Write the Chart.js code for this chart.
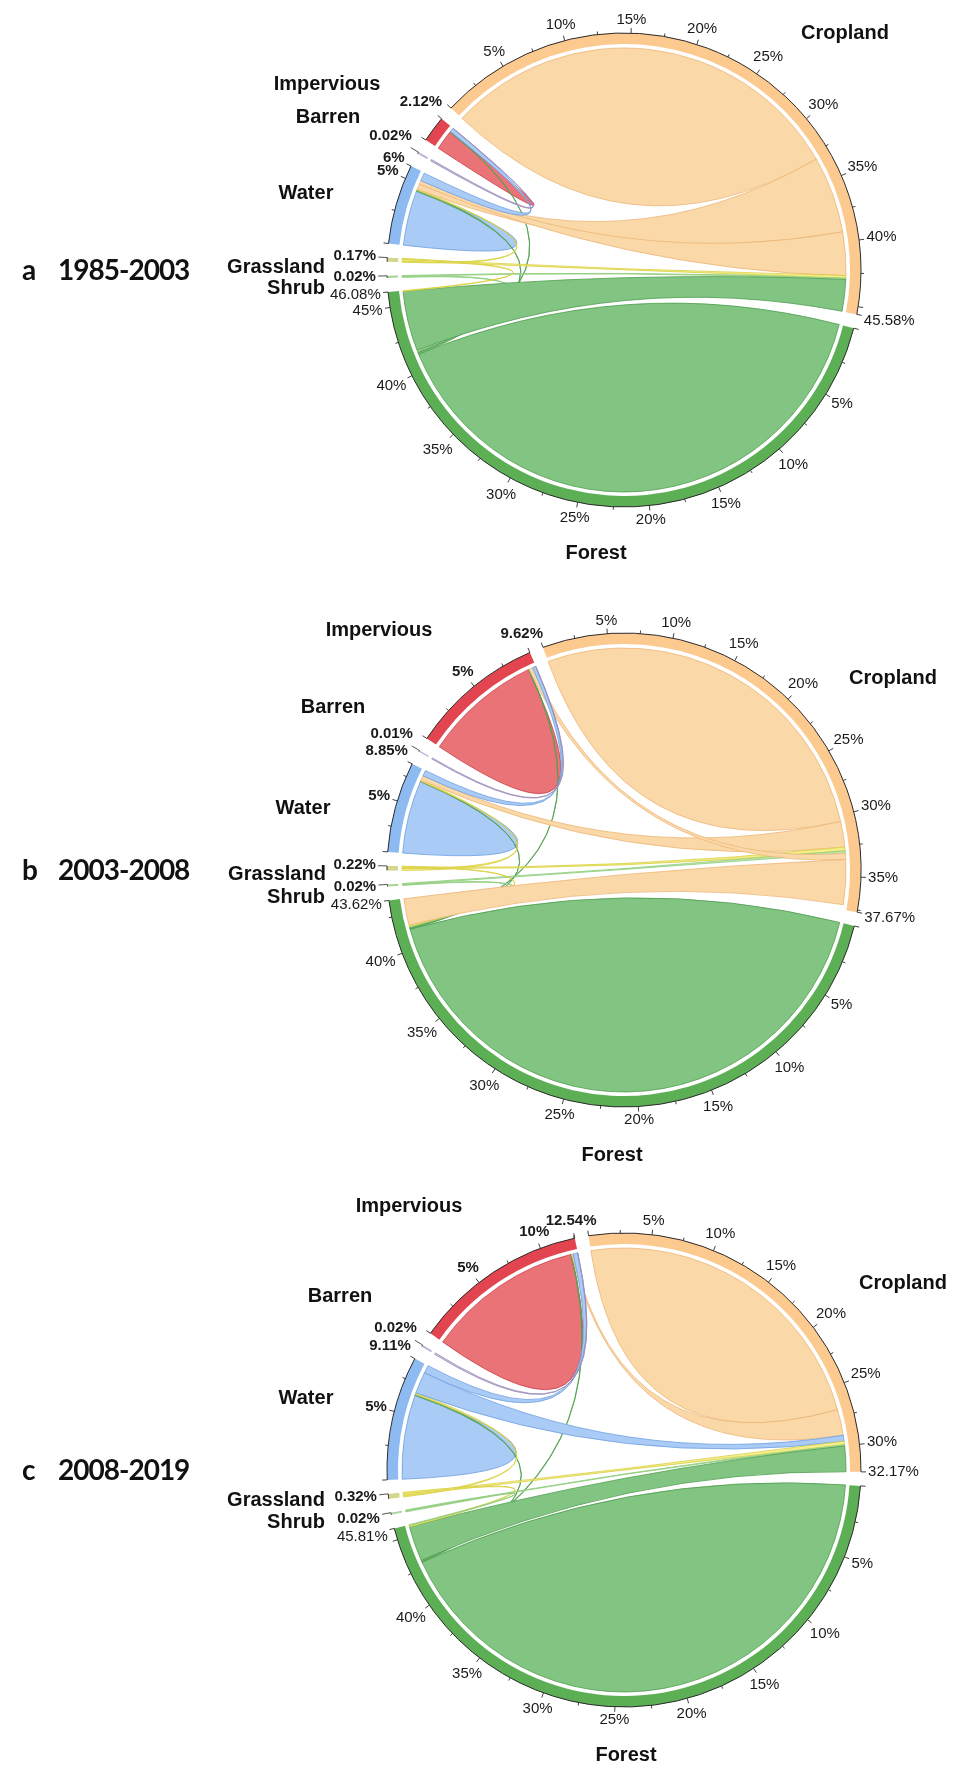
<!DOCTYPE html>
<html>
<head>
<meta charset="utf-8">
<script src="https://cdn.jsdelivr.net/npm/chart.js@4.4.1/dist/chart.umd.min.js"></script>
<style>
  html, body { margin: 0; padding: 0; background: #fff; }
  body { width: 962px; height: 1765px; position: relative; overflow: hidden; }
  canvas { position: absolute; left: 0; }
</style>
</head>
<body>
<canvas id="pa" width="962" height="590" style="top:0px"></canvas>
<canvas id="pb" width="962" height="600" style="top:580px"></canvas>
<canvas id="pc" width="962" height="585" style="top:1180px"></canvas>
<script>
// sectors, clockwise from the top-left
const classes = ['Cropland', 'Forest', 'Shrub', 'Grassland', 'Water', 'Barren', 'Impervious'];

// value at the end of each sector's axis (%)
const totalsA = [45.58, 46.08, 0.02, 0.17, 6, 0.02, 2.12];
const totalsB = [37.67, 43.62, 0.02, 0.22, 8.85, 0.01, 9.62];
const totalsC = [32.17, 45.81, 0.02, 0.32, 9.11, 0.02, 12.54];

// share of the circle each sector takes
const sizesA = [147, 159.7, 0.5, 1.0, 19.5, 0.4, 6.4];
const sizesB = [120.6, 159.4, 0.5, 1.1, 22.3, 0.3, 33];
const sizesC = [99.3, 162.3, 0.5, 1.2, 30.5, 0.4, 42.9];

// links: [from, to, width at 'from' end (%), width at 'to' end (%)]
const linksA = [
  ['Cropland', 'Cropland', 16.5, 16.5],
  ['Forest', 'Forest', 20.6, 20.6],
  ['Water', 'Water', 2.2, 2.2],
  ['Impervious', 'Impervious', 0.85, 0.85],
  ['Forest', 'Water', 0.12, 0.1],
  ['Forest', 'Impervious', 0.1, 0.05],
  ['Shrub', 'Forest', 0.01, 0.1],
  ['Grassland', 'Water', 0.05, 0.05],
  ['Cropland', 'Water', 6.2, 0.45],
  ['Cropland', 'Water', 3.5, 0.3],
  ['Grassland', 'Cropland', 0.08, 0.2],
  ['Shrub', 'Cropland', 0.01, 0.1],
  ['Forest', 'Cropland', 4.5, 2.55],
  ['Water', 'Impervious', 0.65, 0.35],
  ['Barren', 'Impervious', 0.02, 0.02],
  ['Grassland', 'Forest', 0.04, 0.05],
];
const linksB = [
  ['Cropland', 'Cropland', 15.25, 15.25],
  ['Forest', 'Forest', 20.7, 20.7],
  ['Water', 'Water', 3.8, 3.8],
  ['Impervious', 'Impervious', 4.5, 4.5],
  ['Forest', 'Water', 0.05, 0.05],
  ['Forest', 'Impervious', 0.1, 0.05],
  ['Grassland', 'Water', 0.1, 0.1],
  ['Cropland', 'Water', 2.1, 0.5],
  ['Shrub', 'Forest', 0.01, 0.05],
  ['Grassland', 'Cropland', 0.07, 0.3],
  ['Shrub', 'Cropland', 0.01, 0.2],
  ['Cropland', 'Impervious', 0.5, 0.3],
  ['Water', 'Impervious', 0.6, 0.25],
  ['Barren', 'Impervious', 0.01, 0.02],
  ['Grassland', 'Forest', 0.05, 0.1],
  ['Cropland', 'Forest', 3.67, 1.9],
];
const linksC = [
  ['Cropland', 'Cropland', 13.45, 13.45],
  ['Forest', 'Forest', 21.45, 21.45],
  ['Water', 'Water', 3.3, 3.3],
  ['Impervious', 'Impervious', 6.0, 6.0],
  ['Forest', 'Water', 0.05, 0.1],
  ['Grassland', 'Water', 0.1, 0.1],
  ['Forest', 'Impervious', 0.1, 0.05],
  ['Cropland', 'Impervious', 2.2, 0.12],
  ['Water', 'Cropland', 1.7, 0.5],
  ['Grassland', 'Cropland', 0.12, 0.3],
  ['Shrub', 'Cropland', 0.01, 0.1],
  ['Forest', 'Cropland', 2.6, 2.17],
  ['Water', 'Impervious', 0.61, 0.35],
  ['Barren', 'Impervious', 0.02, 0.02],
  ['Grassland', 'Forest', 0.1, 0.1],
  ['Shrub', 'Forest', 0.01, 0.05],
];

const ringColors  = ['#fcc98e', '#5caf55', '#a9d596', '#d3d68c', '#8dbaf0', '#b9a8d6', '#e2454f'];
const chordFill   = ['#fbd8a8', '#82c482', '#c4e6b3', '#f4ee8e', '#a9cbf6', '#cdc0e2', '#ea7378'];
const chordLine   = ['#ecb677', '#4f9d4f', '#8ccb78', '#d8cf3c', '#6e9fe0', '#9a8bb8', '#c8404a'];

const GAP = 3.4;
const TXT = '"Liberation Sans", Arial, sans-serif';

function chordPlugin(p) {
  return {
    id: 'chords',
    afterDatasetsDraw(chart) {
      const ctx = chart.ctx;
      const arcs = chart.getDatasetMeta(0).data;
      const cx = arcs[0].x, cy = arcs[0].y;
      const R = arcs[0].outerRadius;
      const rc = arcs[0].innerRadius - 4;

      const sec = classes.map((name, i) => ({
        start: arcs[i * 2].startAngle,
        end: arcs[i * 2].endAngle,
        total: p.totals[i],
      }));
      const ang = (i, v) => sec[i].start + v / sec[i].total * (sec[i].end - sec[i].start);
      const pt = (r, a) => [cx + r * Math.cos(a), cy + r * Math.sin(a)];

      // place link ends along each sector in list order
      const cursor = classes.map(() => 0);
      const ribbons = p.links.map(([f, t, wf, wt]) => {
        const fi = classes.indexOf(f), ti = classes.indexOf(t);
        const a1 = ang(fi, cursor[fi]); cursor[fi] += wf;
        const a2 = ang(fi, cursor[fi]);
        const b1 = ang(ti, cursor[ti]); cursor[ti] += wt;
        const b2 = ang(ti, cursor[ti]);
        return { fi, self: fi === ti, a1, a2, b1, b2 };
      });

      ctx.save();
      ribbons.forEach(r => {
        ctx.beginPath();
        ctx.arc(cx, cy, rc, r.a1, r.a2);
        if (!r.self) ctx.quadraticCurveTo(cx, cy, ...pt(rc, r.b1));
        ctx.arc(cx, cy, rc, r.b1, r.b2);
        ctx.quadraticCurveTo(cx, cy, ...pt(rc, r.a1));
        ctx.closePath();
        ctx.fillStyle = chordFill[r.fi];
        ctx.fill();
        ctx.strokeStyle = chordLine[r.fi];
        ctx.lineWidth = 0.8;
        ctx.stroke();
      });

      // axis line, ticks and tick labels
      const label = (text, a, r0) => {
        const w = ctx.measureText(text).width, h = 11;
        const c = Math.cos(a), s = Math.sin(a);
        const rr = r0 + w / 2 * Math.abs(c) + h / 2 * Math.abs(s);
        ctx.fillText(text, cx + rr * c, cy + rr * s);
      };
      const tick = (a, len) => {
        ctx.beginPath();
        ctx.moveTo(...pt(R, a));
        ctx.lineTo(...pt(R + len, a));
        ctx.stroke();
      };
      ctx.textAlign = 'center';
      ctx.textBaseline = 'middle';
      ctx.fillStyle = '#1a1a1a';
      sec.forEach((s, i) => {
        ctx.strokeStyle = '#2a2a2a';
        ctx.lineWidth = 1;
        ctx.beginPath();
        ctx.arc(cx, cy, R, s.start, s.end);
        ctx.stroke();
        ctx.font = (i >= 2 ? 'bold ' : '') + '15px ' + TXT;
        const endText = String(s.total) + '%';
        if (s.total < 1) {
          ctx.strokeStyle = '#555';
          tick(s.end, 9);
          label(endText, s.end, R + 11);
          return;
        }
        ctx.lineWidth = 0.9;
        for (let k = 0; k * 2.5 <= s.total; k++) {
          const v = k * 2.5;
          const a = ang(i, v);
          const major = k % 2 === 0;
          tick(a, major ? 5 : 3);
          if (major && v > 0 && s.total - v >= 0.9) label(v + '%', a, R + 7);
        }
        tick(s.end, 5);
        label(endText, s.end, R + 7);
      });

      // sector names
      ctx.font = 'bold 20px ' + TXT;
      ctx.fillStyle = '#111';
      p.names.forEach((xy, i) => ctx.fillText(classes[i], cx + xy[0], cy + xy[1]));

      // panel title
      ctx.textAlign = 'left';
      ctx.font = 'bold 28px Lato, "Open Sans", sans-serif';
      ctx.letterSpacing = '-1px';
      ctx.fillText(p.tag, 22, cy + 1);
      ctx.fillText(p.period, 58, cy + 1);
      ctx.restore();
    }
  };
}

function buildData(sizes) {
  const values = [], colors = [];
  sizes.forEach((v, i) => {
    values.push(v, GAP);
    colors.push(ringColors[i], 'rgba(0,0,0,0)');
  });
  return { values, colors };
}

const panels = [
  { id: 'pa', tag: 'a', period: '1985-2003', totals: totalsA, sizes: sizesA, links: linksA,
    rotation: -46.9, pad: { top: 33, bottom: 83 },
    names: [[221, -237], [-28, 283], [-328, 18], [-348, -3], [-318, -77], [-296, -153], [-297, -186]] },
  { id: 'pb', tag: 'b', period: '2003-2008', totals: totalsB, sizes: sizesB, links: linksB,
    rotation: -20, pad: { top: 53, bottom: 73 },
    names: [[269, -192], [-12, 285], [-328, 27], [-347, 4], [-321, -62], [-291, -163], [-245, -240]] },
  { id: 'pc', tag: 'c', period: '2008-2019', totals: totalsC, sizes: sizesC, links: linksC,
    rotation: -8.6, pad: { top: 53, bottom: 58 },
    names: [[279, -187], [2, 285], [-328, 52], [-348, 30], [-318, -72], [-284, -174], [-215, -264]] },
];

panels.forEach(p => {
  const d = buildData(p.sizes);
  new Chart(document.getElementById(p.id), {
    type: 'doughnut',
    data: {
      labels: d.values.map((v, i) => i % 2 ? '' : classes[i / 2]),
      datasets: [{
        data: d.values,
        backgroundColor: d.colors,
        borderWidth: 0,
      }],
    },
    options: {
      responsive: false,
      animation: false,
      events: [],
      rotation: p.rotation,
      cutout: 226,
      layout: { padding: { left: 387, right: 101, top: p.pad.top, bottom: p.pad.bottom } },
      plugins: { legend: { display: false }, tooltip: { enabled: false } },
    },
    plugins: [chordPlugin(p)],
  });
});
</script>
</body>
</html>
